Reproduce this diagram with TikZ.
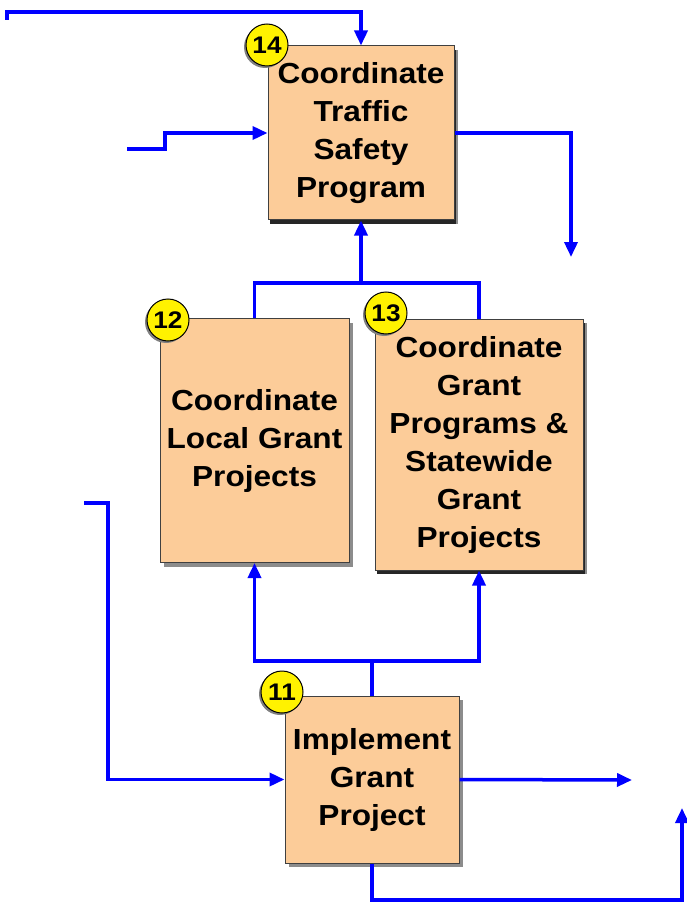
\documentclass[tikz,border=0pt]{standalone}
\usepackage{fontspec}
\setmainfont{Liberation Sans}[FakeStretch=1.09]
\usetikzlibrary{arrows.meta,shadows}
\definecolor{peach}{RGB}{252,204,153}
\definecolor{flowblue}{RGB}{0,0,255}
\begin{document}
\begin{tikzpicture}[x=1pt,y=-1pt,
  procbox/.style={draw=black!75,line width=1pt,fill=peach,align=center,
    font=\fontsize{29}{38}\selectfont\bfseries,inner sep=0pt,
    drop shadow={shadow xshift=4pt,shadow yshift=-4pt,fill=black!45,opacity=1}},
  darkbox/.style={procbox,
    drop shadow={shadow xshift=2pt,shadow yshift=-4pt,fill=black!85,opacity=1}},
  badge/.style={circle,draw=black,line width=1pt,fill=yellow,minimum size=42pt,inner sep=0pt,
    font=\fontsize{24}{24}\selectfont\bfseries,
    drop shadow={shadow xshift=-2pt,shadow yshift=-2pt,fill=black!50,opacity=1}},
  flow/.style={draw=flowblue,line width=3.5pt},
  flowar/.style={flow,-{Triangle[length=15pt,width=13pt]}}]
\path[use as bounding box] (0,0) rectangle (686,909);

% boxes
\node[darkbox,minimum width=186pt,minimum height=174pt] (b14) at (361,133)
  {Coordinate\\Traffic\\Safety\\Program};
\node[procbox,minimum width=189pt,minimum height=244pt] (b12) at (254.5,440.5)
  {Coordinate\\Local Grant\\Projects};
\node[darkbox,minimum width=208pt,minimum height=251pt] (b13) at (479,444.5)
  {Coordinate\\Grant\\Programs \&\\Statewide\\Grant\\Projects};
\node[procbox,minimum width=174pt,minimum height=167pt] (b11) at (372,779.5)
  {Implement\\Grant\\Project};

% badges
\node[badge] (n14) at (267,45) {14};
\node[badge] (n12) at (168,320) {12};
\node[badge] (n13) at (386,313) {13};
\node[badge] (n11) at (282,692) {11};

% free ends and junctions
\coordinate (top0) at (7,20);
\coordinate (in14) at (127,149);
\coordinate (out14) at (571,257);
\coordinate (j1) at (361,283);
\coordinate (j2) at (372,661);
\coordinate (in11) at (84,503);
\coordinate (out11) at (632,780);
\coordinate (out11b) at (682,808);

% connectors
\draw[flowar] (top0) -- (7,12) -| (b14.north);
\draw[flowar] (in14) -- (165,149) |- (b14.west);
\draw[flowar] (b14.east) -| (out14);
\draw[flow] (b12.north) |- (j1) -| (b13.north);
\draw[flowar] (j1) -- (b14.south);
\draw[flow] (b11.north) -- (j2);
\draw[flowar] (j2) -| (b12.south);
\draw[flowar] (j2) -| (b13.south);
\draw[flowar] (in11) -- (108,503) |- (b11.west);
\draw[flowar] (b11.east) -- (out11);
\draw[flowar] (b11.south) |- (682,900) -- (out11b);
\end{tikzpicture}
\end{document}
